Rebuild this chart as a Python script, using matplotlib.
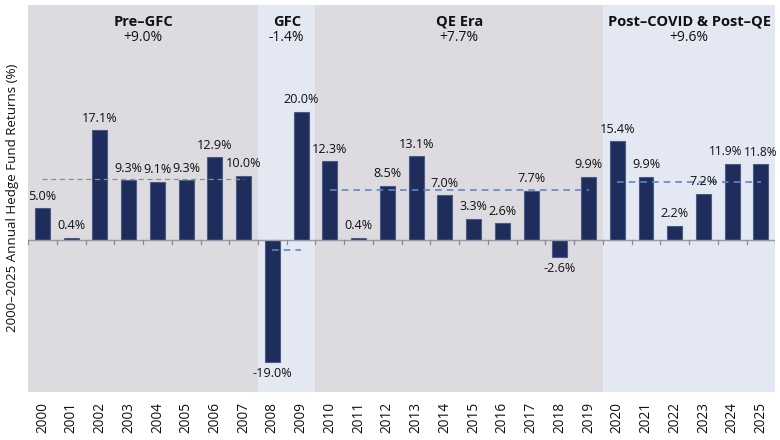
import matplotlib.pyplot as plt
import numpy as np

plt.rcParams['font.family'] = ['Open Sans', 'DejaVu Sans']

years = [str(y) for y in range(2000, 2026)]
returns = [5.0, 0.4, 17.1, 9.3, 9.1, 9.3, 12.9, 10.0, -19.0, 20.0,
           12.3, 0.4, 8.5, 13.1, 7.0, 3.3, 2.6, 7.7, -2.6, 9.9,
           15.4, 9.9, 2.2, 7.2, 11.9, 11.8]

# periods: name, average label, first and last year index
period_names = ['Pre–GFC', 'GFC', 'QE Era', 'Post–COVID & Post–QE']
period_avg_labels = ['+9.0%', '-1.4%', '+7.7%', '+9.6%']
period_start = [0, 8, 10, 20]
period_end = [7, 9, 19, 25]
# dashed average line levels as drawn
period_line_level = [9.5, -1.6, 7.8, 9.0]

band_colors = ['#dddbe0', '#e3e8f2', '#dddbe0', '#e3e8f2']
line_colors = ['#8c8c96', '#5f87c6', '#5f87c6', '#5f87c6']

fig = plt.figure(figsize=(7.8, 4.4), dpi=100)
ax = fig.add_axes([0.036, 0.109, 0.958, 0.88])

x = np.arange(len(years))

for i in range(len(period_names)):
    ax.axvspan(period_start[i] - 0.5, period_end[i] + 0.5,
               color=band_colors[i], lw=0, zorder=0)
    xc = (period_start[i] + period_end[i]) / 2
    ax.text(xc, 34.1, period_names[i], ha='center', va='center',
            fontsize=10.5, fontweight='bold', color='#111111')
    ax.text(xc, 31.6, period_avg_labels[i], ha='center', va='center',
            fontsize=10, color='#111111')
    ax.plot([period_start[i], period_end[i]],
            [period_line_level[i]] * 2, ls=(0, (4, 3)),
            color=line_colors[i], lw=1.2 if i else 0.9, zorder=3)

ax.bar(x, returns, width=0.52, color='#1f2d5c', edgecolor='#4c5b86',
       linewidth=0.8, zorder=2)

for xi, v in zip(x, returns):
    dx = 0
    fs = 9.1
    if years[xi] == '2024':
        dx, fs = -4.5, 8.6
    elif years[xi] == '2025':
        dx, fs = -0.5, 8.6
    if v >= 0:
        ax.annotate(f'{v:.1f}%', (xi, v), xytext=(dx, 4), textcoords='offset points',
                    ha='center', va='bottom', fontsize=fs, color='#111111')
    else:
        ax.annotate(f'{v:.1f}%', (xi, v), xytext=(dx, -4), textcoords='offset points',
                    ha='center', va='top', fontsize=fs, color='#111111')

ax.axhline(0, color='#9a9aa2', lw=1, zorder=2.5)
for b in np.arange(-0.5, len(years), 1):
    ax.plot([b, b], [0, -0.55], color='#8a8a92', lw=0.9, zorder=2.5)

ax.set_xlim(-0.5, len(years) - 0.5)
ax.set_ylim(-23.7, 36.7)
ax.set_xticks(x)
ax.set_xticklabels(years, rotation=90, fontsize=9.8, color='#111111')
ax.tick_params(axis='x', length=0, pad=7)
ax.set_yticks([])
for s in ax.spines.values():
    s.set_visible(False)

fig.text(0.016, 0.55, '2000–2025 Annual Hedge Fund Returns (%)', rotation=90,
         ha='center', va='center', fontsize=9.6, color='#111111')

fig.savefig('out.png', dpi=100)
